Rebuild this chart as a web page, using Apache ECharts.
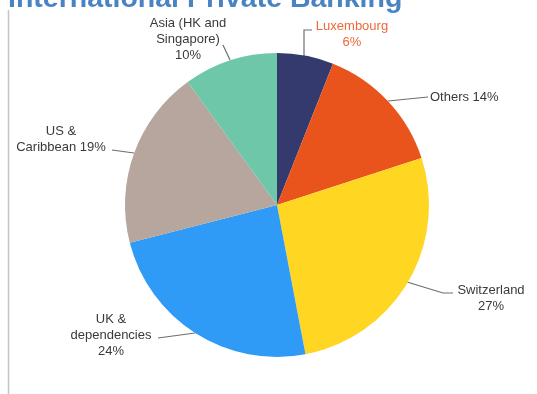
<!DOCTYPE html>
<html><head><meta charset="utf-8">
<script src="https://cdn.jsdelivr.net/npm/echarts@6/dist/echarts.min.js"></script>
<style>html,body{margin:0;padding:0;background:#fff}#c{width:537px;height:394px}</style>
</head><body><div id="c"></div>
<script>
const titleText = 'International Private Banking';
const categories = ['Luxembourg', 'Others', 'Switzerland', 'UK &\ndependencies', 'US &\nCaribbean', 'Asia (HK and\nSingapore)'];
const values = [6, 14, 27, 24, 19, 10];
const colors = ['#343A6E', '#E8541C', '#FFD622', '#2F9BF6', '#B6A69D', '#6DC7A8'];
const labelTexts = ['Luxembourg\n6%', 'Others 14%', 'Switzerland\n27%', 'UK &\ndependencies\n24%', 'US &\nCaribbean 19%', 'Asia (HK and\nSingapore)\n10%'];

// label layout (positions of text and leader lines)
const labelPos = [
  {x: 352, y: 34, align: 'center', line: [[304, 56], [304, 30], [312, 30]]},
  {x: 430, y: 97, align: 'left', line: [[388, 101], [428, 97]]},
  {x: 491, y: 298, align: 'center', line: [[407, 282], [443, 293], [453, 293]]},
  {x: 111, y: 335, align: 'center', line: [[195, 333], [158, 338]]},
  {x: 61, y: 139, align: 'center', line: [[134, 153], [112, 150]]},
  {x: 188, y: 39, align: 'center', line: [[230, 60], [223, 45]]}
];

const chart = echarts.init(document.getElementById('c'));
chart.setOption({
  animation: false,
  graphic: [
    {type: 'text', left: 8, top: -15, style: {text: titleText, font: 'bold 28.5px "Liberation Sans", Arial, sans-serif', fill: '#4A83C4'}},
    {type: 'line', shape: {x1: 8.5, y1: 10, x2: 8.5, y2: 394}, style: {stroke: '#C4C4C4', lineWidth: 1.5}}
  ],
  series: [{
    type: 'pie',
    center: [277, 205],
    radius: [0, 152],
    startAngle: 90,
    clockwise: true,
    data: categories.map((c, i) => ({
      name: c, value: values[i],
      itemStyle: {color: colors[i]},
      label: {color: i === 0 ? '#F0683A' : '#3A3A3A'}
    })),
    label: {
      show: true,
      formatter: p => labelTexts[p.dataIndex],
      fontFamily: '"Liberation Sans", Arial, sans-serif',
      fontSize: 13,
      lineHeight: 16,
      align: 'center',
      overflow: 'none',
      width: 200
    },
    labelLine: {show: true, lineStyle: {color: '#6E6E6E', width: 1.2}},
    labelLayout: function (p) {
      const L = labelPos[p.dataIndex];
      return {x: L.x, y: L.y, align: L.align, verticalAlign: 'middle', labelLinePoints: L.line};
    },
    itemStyle: {borderWidth: 0},
    emphasis: {disabled: true}
  }]
});
</script></body></html>
